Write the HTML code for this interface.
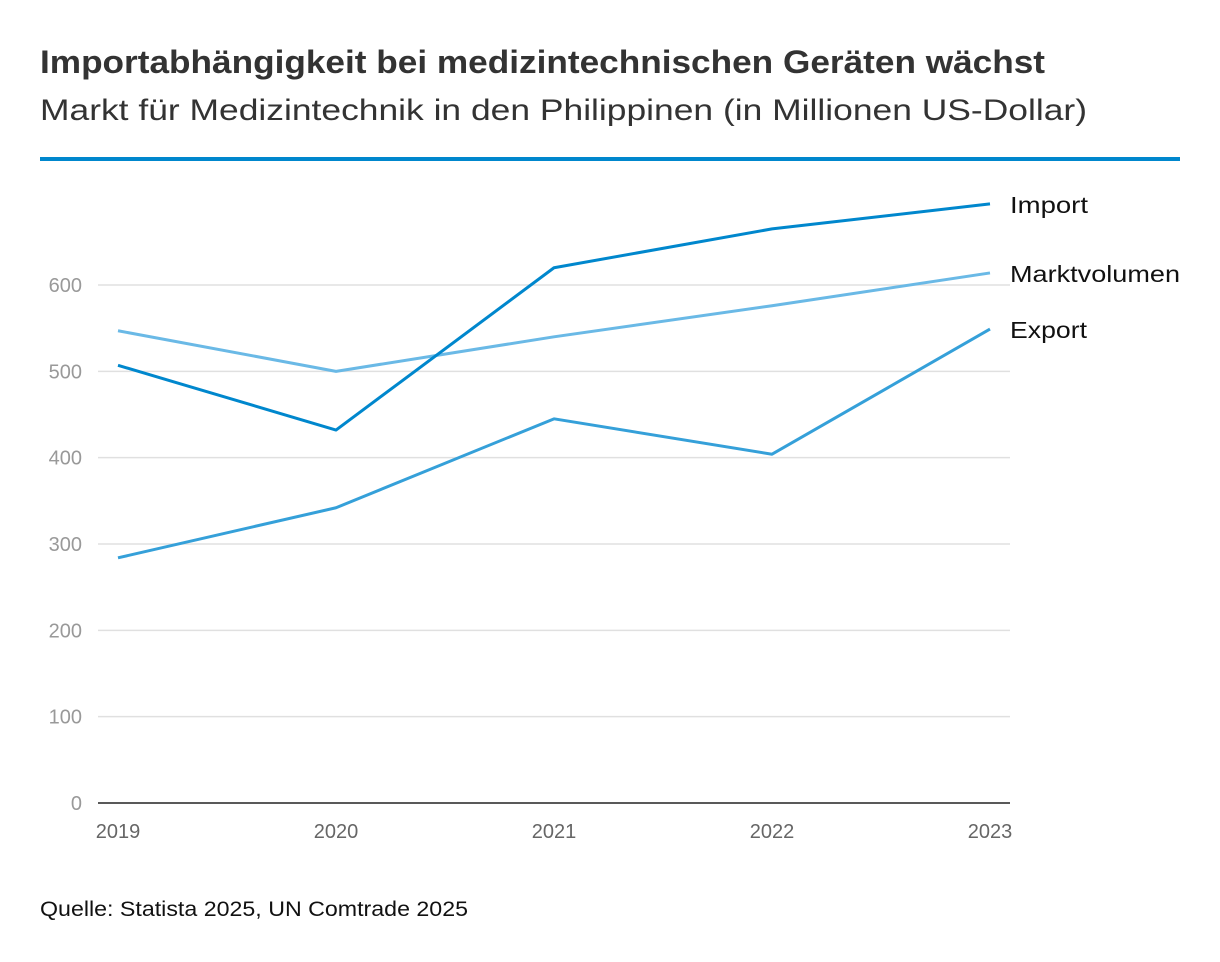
<!DOCTYPE html>
<html><head><meta charset="utf-8"><style>
body{margin:0;background:#fff;font-family:"Liberation Sans",sans-serif;}
</style></head><body>
<svg width="1220" height="962" style="display:block">
<text x="40" y="73" font-size="32" font-weight="bold" fill="#333" textLength="1005" lengthAdjust="spacingAndGlyphs">Importabhängigkeit bei medizintechnischen Geräten wächst</text>
<text x="40" y="120" font-size="30" fill="#333" textLength="1047" lengthAdjust="spacingAndGlyphs">Markt für Medizintechnik in den Philippinen (in Millionen US-Dollar)</text>
<rect x="40" y="157" width="1140" height="4" fill="#0087cd"/>
<g id="grid"></g><g id="series"></g>
<text x="40" y="916" font-size="21" fill="#111" textLength="428" lengthAdjust="spacingAndGlyphs">Quelle: Statista 2025, UN Comtrade 2025</text>
</svg>
<script>
const years=["2019","2020","2021","2022","2023"];
const importVals=[507,432,620,665,694];
const marktVals=[547,500,540,576,614];
const exportVals=[284,342,445,404,549];
const yTicks=[0,100,200,300,400,500,600];
const NS="http://www.w3.org/2000/svg";
const x=i=>118+i*218;
const y=v=>803-v*0.8633;
const grid=document.getElementById('grid'),ser=document.getElementById('series');
function mk(t,a,p){const e=document.createElementNS(NS,t);for(const k in a)e.setAttribute(k,a[k]);p.appendChild(e);return e;}
yTicks.forEach(t=>{
 if(t>0){const l=mk('line',{x1:98,x2:1010,y1:y(t),y2:y(t),stroke:'#e0e0e0','stroke-width':1.5},grid);
 
 }
 const tx=mk('text',{x:82,y:y(t)+7,'font-size':20,fill:'#999','text-anchor':'end'},grid);tx.textContent=t;
 
 
});
const ax=mk('line',{x1:98,x2:1010,y1:803,y2:803,stroke:'#222','stroke-width':1.5},grid);


years.forEach((yr,i)=>{const t=mk('text',{x:x(i),y:838,'font-size':20,fill:'#666','text-anchor':'middle'},grid);t.textContent=yr;
 
 });
const labelW={Import:78,Marktvolumen:170,Export:77};
[[marktVals,'#6ab9e6','Marktvolumen'],[exportVals,'#35a0d9','Export'],[importVals,'#0087cd','Import']].forEach(([vals,c,name])=>{
 const p=mk('polyline',{points:vals.map((v,i)=>x(i)+','+y(v)).join(' '),fill:'none',stroke:c,'stroke-width':3,'stroke-linejoin':'round'},ser);
 
 
 const t=mk('text',{x:1010,y:y(vals[vals.length-1])+9,'font-size':23,fill:'#111',textLength:labelW[name],lengthAdjust:'spacingAndGlyphs'},ser);t.textContent=name;
 
 
});
</script>
</body></html>
